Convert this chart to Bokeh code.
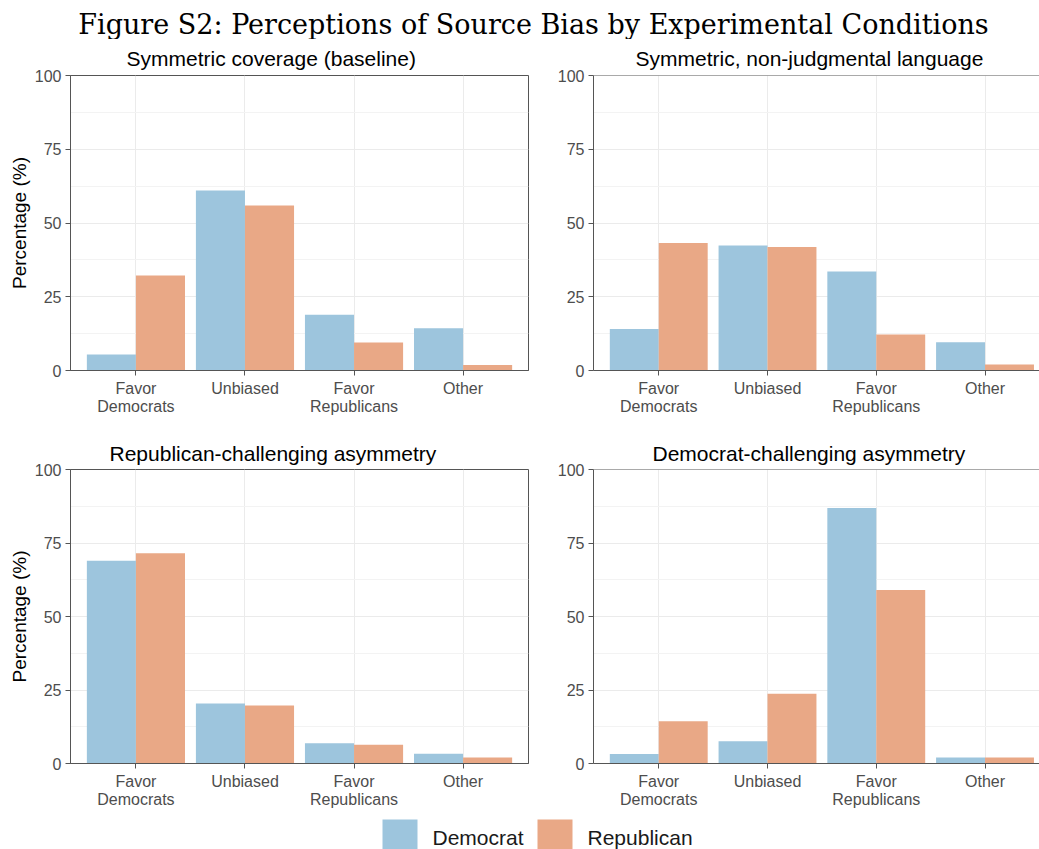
from bokeh.plotting import figure
from bokeh.models import Range1d, FixedTicker, ColumnDataSource, Span
from bokeh.layouts import column, row
from bokeh.transform import dodge
from bokeh.core.properties import value
from bokeh.embed import file_html
from bokeh.resources import INLINE

# ---------------- data ----------------
categories = ["Favor\nDemocrats", "Unbiased", "Favor\nRepublicans", "Other"]
groups = ["Democrat", "Republican"]
panel_titles = [
    "Symmetric coverage (baseline)",
    "Symmetric, non-judgmental language",
    "Republican-challenging asymmetry",
    "Democrat-challenging asymmetry",
]
dem_baseline = [5.4, 61.0, 18.9, 14.3]
rep_baseline = [32.2, 55.9, 9.5, 1.9]
dem_nonjudg = [14.1, 42.4, 33.6, 9.6]
rep_nonjudg = [43.2, 41.9, 12.2, 2.0]
dem_repchal = [69.0, 20.4, 6.9, 3.3]
rep_repchal = [71.5, 19.7, 6.4, 2.0]
dem_demchal = [3.2, 7.6, 86.9, 2.0]
rep_demchal = [14.4, 23.7, 59.0, 2.0]
y_ticks = [0, 25, 50, 75, 100]
y_minor = [12.5, 37.5, 62.5, 87.5]

main_title = "Figure S2: Perceptions of Source Bias by Experimental Conditions"

# ---------------- style ----------------
BLUE = "#9DC5DD"
SALMON = "#E9A886"
LINE = "#555555"
SANS = "Liberation Sans"
BAR_W = 0.45

TOTAL_W = 1039
LEFT_W = 554
RIGHT_W = TOTAL_W - LEFT_W
PX_PER_UNIT = 109.0
HEADER_H = 39
ROW1_H = 381
ROW2_H = 391


def make_panel(title, dem, rep, left, top_row, title_offset):
    width = LEFT_W if left else RIGHT_W
    if top_row:
        height, mb_top, mb_bottom = ROW1_H, 36, 50
        standoff = 11
    else:
        height, mb_top, mb_bottom = ROW2_H, 49, 47
        standoff = 9
    if left:
        mb_left = 70
        mb_right = LEFT_W - mb_left - 458
        x_end = 4.6
    else:
        mb_left, mb_right = 38, 0
        x_end = 0.4 + (RIGHT_W - mb_left) / PX_PER_UNIT
    p = figure(width=width, height=height, x_range=Range1d(0.4, x_end),
               y_range=Range1d(0, 100), output_backend="svg",
               toolbar_location=None, min_border_left=mb_left,
               min_border_right=mb_right, min_border_top=mb_top,
               min_border_bottom=mb_bottom)
    xs = list(range(1, len(categories) + 1))
    src = ColumnDataSource(dict(x=xs, dem=dem, rep=rep))
    p.vbar(x=dodge("x", -BAR_W / 2, range=p.x_range), top="dem", width=BAR_W,
           source=src, fill_color=BLUE, line_color=None)
    p.vbar(x=dodge("x", BAR_W / 2, range=p.x_range), top="rep", width=BAR_W,
           source=src, fill_color=SALMON, line_color=None)

    # title
    p.title.text = title
    p.title.align = "left"
    p.title.offset = title_offset
    p.title.text_font = SANS
    p.title.text_font_size = "21px"
    p.title.text_font_style = "normal"
    p.title.text_color = "#000000"
    p.title.standoff = standoff

    # axes
    p.xaxis.ticker = FixedTicker(ticks=xs)
    p.xaxis.major_label_overrides = {x: c for x, c in zip(xs, categories)}
    p.xaxis.major_label_text_line_height = 1.1
    p.yaxis.ticker = FixedTicker(ticks=y_ticks, minor_ticks=y_minor)
    for ax in (p.xaxis[0], p.yaxis[0]):
        ax.axis_line_color = LINE
        ax.axis_line_width = 1
        ax.major_tick_line_color = LINE
        ax.major_tick_in = 0
        ax.major_tick_out = 5
        ax.minor_tick_line_color = None
        ax.major_label_text_font = SANS
        ax.major_label_text_font_size = "16px"
        ax.major_label_text_color = "#4D4D4D"
        ax.major_label_standoff = 4
    if left:
        p.yaxis.axis_label = "Percentage (%)"
        p.yaxis.axis_label_text_font = SANS
        p.yaxis.axis_label_text_font_size = "19px"
        p.yaxis.axis_label_text_font_style = "normal"
        p.yaxis.axis_label_text_color = "#000000"
        p.yaxis.axis_label_standoff = 2
        p.outline_line_color = LINE
        p.outline_line_width = 1
        p.outline_line_alpha = 1
    else:
        p.outline_line_color = None
        p.add_layout(Span(location=100, dimension="width", line_color=LINE, line_width=1))

    # grid
    p.xgrid.grid_line_color = "#EBEBEB"
    p.ygrid.grid_line_color = "#EBEBEB"
    p.ygrid.minor_grid_line_color = "#F3F3F3"
    p.background_fill_color = "white"
    p.border_fill_color = "white"
    return p


tl = make_panel(panel_titles[0], dem_baseline, rep_baseline, True, True, 56)
tr = make_panel(panel_titles[1], dem_nonjudg, rep_nonjudg, False, True, 42)
bl = make_panel(panel_titles[2], dem_repchal, rep_repchal, True, False, 39)
br = make_panel(panel_titles[3], dem_demchal, rep_demchal, False, False, 59)

# header with main title
header = figure(width=TOTAL_W, height=HEADER_H, title=None,
                x_range=Range1d(0, TOTAL_W), y_range=Range1d(HEADER_H, 0),
                output_backend="svg", toolbar_location=None, min_border=0,
                x_axis_location=None, y_axis_location=None)
header.outline_line_color = None
header.xgrid.visible = False
header.ygrid.visible = False
header.text(x=[533], y=[23.5], text=[main_title], text_align="center",
            text_baseline="alphabetic", text_font=value("DejaVu Serif"),
            text_font_size="27px", text_color="#000000")

# legend strip (drawn keys + labels)
LEG_H = 849 - HEADER_H - ROW1_H - ROW2_H
leg = figure(width=TOTAL_W, height=LEG_H, title=None,
             x_range=Range1d(0, TOTAL_W), y_range=Range1d(LEG_H, 0),
             output_backend="svg", toolbar_location=None, min_border=0,
             x_axis_location=None, y_axis_location=None)
leg.outline_line_color = None
leg.xgrid.visible = False
leg.ygrid.visible = False
key_top = 819 - (849 - LEG_H)
leg.rect(x=[399.5, 554.5], y=[key_top + 17.5] * 2, width=35, height=35,
         fill_color=[BLUE, SALMON], line_color=None)
leg.text(x=[432, 587], y=[key_top + 18] * 2, text=groups, text_align="left",
         text_baseline="middle", text_font=value(SANS), text_font_size="21px",
         text_color="#1A1A1A")

layout = column(header, row(tl, tr), row(bl, br), leg)
open("out.html", "w").write(file_html(layout, INLINE))
